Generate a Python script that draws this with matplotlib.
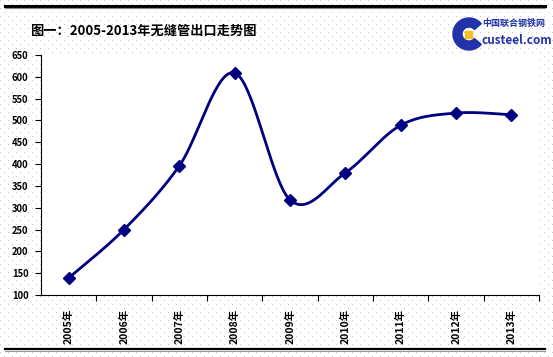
import numpy as np
import matplotlib
matplotlib.use("Agg")
import matplotlib.pyplot as plt
from matplotlib.patches import Wedge, Rectangle
from matplotlib.lines import Line2D

plt.rcParams['font.family'] = ['Noto Sans CJK SC', 'DejaVu Sans']

# ---- data ----
years = ["2005年", "2006年", "2007年", "2008年", "2009年", "2010年", "2011年", "2012年", "2013年"]
values = [139, 250, 396, 609, 318, 380, 489, 517, 513]
yticks = [100, 150, 200, 250, 300, 350, 400, 450, 500, 550, 600, 650]
title = "图一：2005-2013年无缝管出口走势图"

W, H = 553, 357
fig = plt.figure(figsize=(W / 100, H / 100), dpi=100)

# dotted background pattern
bg = np.ones((H, W, 3))
for r in range(0, H, 4):
    off = 0 if (r // 4) % 2 == 0 else 4
    bg[r, off::8] = 0.78
fig.figimage(bg, 0, 0, zorder=-10)

ax = fig.add_axes([41 / W, (H - 295) / H, (539 - 41) / W, (295 - 55) / H])
ax.set_facecolor('white')

# smoothed line (Bezier through points, Excel-like)
x = np.arange(len(values), dtype=float)
y = np.array(values, dtype=float)
n = len(x)
px = np.concatenate([[x[0]], x, [x[-1]]])
py = np.concatenate([[y[0]], y, [y[-1]]])
cx, cy = [], []
t = np.linspace(0, 1, 40)
for i in range(n - 1):
    p0 = np.array([x[i], y[i]])
    p3 = np.array([x[i + 1], y[i + 1]])
    prev = np.array([px[i], py[i]])
    nxt = np.array([px[i + 3], py[i + 3]])
    p1 = p0 + (p3 - prev) / 6
    p2 = p3 - (nxt - p0) / 6
    b = ((1 - t) ** 3)[:, None] * p0 + (3 * (1 - t) ** 2 * t)[:, None] * p1 \
        + (3 * (1 - t) * t ** 2)[:, None] * p2 + (t ** 3)[:, None] * p3
    cx.extend(b[:, 0]); cy.extend(b[:, 1])
navy = '#000080'
ax.plot(cx, cy, color=navy, lw=2.0, solid_capstyle='round', zorder=3)
ax.plot(x, y, linestyle='none', marker='D', ms=6, color=navy, zorder=4)

ax.set_xlim(-0.5, n - 0.5)
ax.set_ylim(100, 650)
ax.set_yticks(yticks)
ax.set_yticklabels([str(v) for v in yticks], fontsize=6.8, fontweight='bold')
ax.set_xticks(x)
ax.set_xticklabels(years, rotation=90, fontsize=7.5, fontweight='bold', va='top')
ax.set_xticks(np.arange(0.5, n, 1), minor=True)
ax.tick_params(axis='x', which='major', length=0, pad=10)
ax.tick_params(axis='x', which='minor', length=4, width=0.8, direction='out')
ax.tick_params(axis='y', length=4, width=0.8, direction='out', pad=5)
for s in ['top', 'right']:
    ax.spines[s].set_visible(False)
for s in ['left', 'bottom']:
    ax.spines[s].set_linewidth(0.8)
    ax.spines[s].set_color('black')

# title
fig.text(30 / W, 1 - 31 / H, title, fontsize=9.5, fontweight='bold', va='center', ha='left')

# borders
fig.add_artist(Line2D([5 / W, 545 / W], [1 - 5.5 / H, 1 - 5.5 / H], color='black', lw=2.2))
fig.add_artist(Line2D([5 / W, 545 / W], [1 - 7.5 / H, 1 - 7.5 / H], color='#888888', lw=0.8))
fig.add_artist(Line2D([5 / W, 545 / W], [1 - 349 / H, 1 - 349 / H], color='black', lw=1.6))
fig.add_artist(Line2D([5 / W, 545 / W], [1 - 351 / H, 1 - 351 / H], color='#999999', lw=0.8))

# logo
logo_ax = fig.add_axes([452 / W, 1 - 52 / H, 34 / W, 36 / H])
logo_ax.set_xlim(0, 34); logo_ax.set_ylim(0, 36); logo_ax.axis('off')
logo_ax.set_aspect('equal')
logo_ax.add_patch(Wedge((17, 18), 16, 40, 320, width=9, color='#2233aa'))
logo_ax.add_patch(Rectangle((13, 14), 7, 7, color='#f0c020'))
fig.text(482 / W, 1 - 23 / H, "中国联合钢铁网", fontsize=6.5, fontweight='bold', color='#2233aa', va='center', ha='left')
fig.text(481 / W, 1 - 41 / H, "custeel.com", fontsize=8.5, fontweight='bold', color='#2233aa', va='center', ha='left')

fig.savefig("out.png", dpi=100)
